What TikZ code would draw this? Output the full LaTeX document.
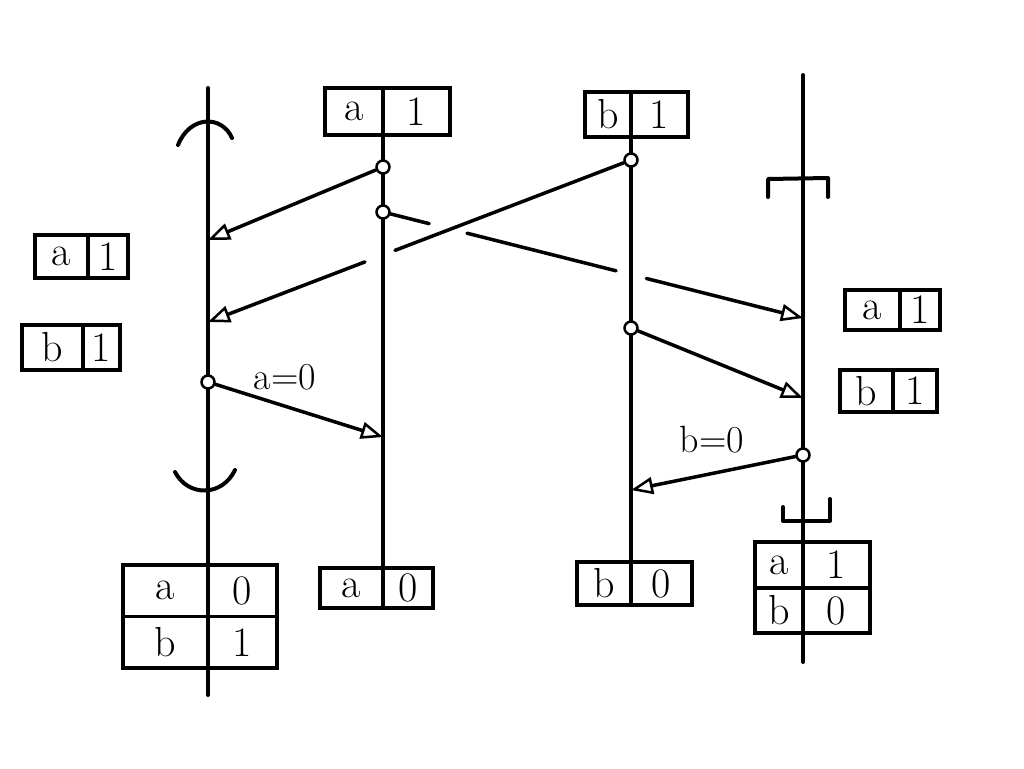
\documentclass[tikz,border=0pt]{standalone}
\usetikzlibrary{arrows.meta,calc}
\begin{document}
\begin{tikzpicture}[x=1pt,y=-1pt,
  proc/.style={line width=4pt, line cap=round},
  msg/.style={line width=3.5pt, line cap=round},
  tip/.style={-{Triangle[open,length=22pt,width=17pt,line width=2.5pt]}},
  cell/.style={draw, line width=3.5pt, inner sep=0pt, outer sep=0pt, font=\fontsize{42}{44}\selectfont},
  event/.style={circle, draw, fill=white, line width=2.5pt, minimum size=13pt, inner sep=0pt},
  guard/.style={line width=4pt, line cap=round, line join=round},
  lbl/.style={font=\fontsize{38}{40}\selectfont}]

\fill[white] (0,0) rectangle (1024,768);
\useasboundingbox (0,0) rectangle (1024,768);

% process time lines
\coordinate (p1t) at (208,88);  \coordinate (p1b) at (208,695);
\coordinate (p2t) at (383,88);  \coordinate (p2b) at (383,606);
\coordinate (p3t) at (631,92);  \coordinate (p3b) at (631,602);
\coordinate (p4t) at (803,75);  \coordinate (p4b) at (803,662);
\draw[proc] (p1t) -- (p1b);
\draw[proc] (p2t) -- (p2b);
\draw[proc] (p3t) -- (p3b);
\draw[proc] (p4t) -- (p4b);

% initial states
\node[cell, minimum width=58pt, minimum height=47pt] (s2a) at (354,111.5) {a};
\node[cell, minimum width=67pt, minimum height=47pt] (s2v) at (416.5,111.5) {1};
\node[cell, minimum width=46pt, minimum height=45pt] (s3b) at (608,114.5) {b};
\node[cell, minimum width=57pt, minimum height=45pt] (s3v) at (659.5,114.5) {1};

% final states
\node[cell, minimum width=63pt, minimum height=40pt] (f2a) at (351.5,588) {a};
\node[cell, minimum width=50pt, minimum height=40pt] (f2v) at (408,588) {0};
\node[cell, minimum width=54pt, minimum height=43pt] (f3b) at (604,583.5) {b};
\node[cell, minimum width=61pt, minimum height=43pt] (f3v) at (661.5,583.5) {0};

% tables of process 1 and process 4
\node[cell, minimum width=85pt, minimum height=51.5pt] (t1a)  at (165.5,590.75) {a};
\node[cell, minimum width=69pt, minimum height=51.5pt] (t1av) at (242.5,590.75) {0};
\node[cell, minimum width=85pt, minimum height=51.5pt] (t1b)  at (165.5,642.25) {b};
\node[cell, minimum width=69pt, minimum height=51.5pt] (t1bv) at (242.5,642.25) {1};
\node[cell, minimum width=48pt, minimum height=46pt] (t4a)  at (779,565) {a};
\node[cell, minimum width=67pt, minimum height=46pt] (t4av) at (836.5,565) {1};
\node[cell, minimum width=48pt, minimum height=45pt] (t4b)  at (779,610.5) {b};
\node[cell, minimum width=67pt, minimum height=45pt] (t4bv) at (836.5,610.5) {0};

% received values beside processes 1 and 4
\node[cell, minimum width=53pt, minimum height=43pt] (l1a) at (61.5,256.5) {a};
\node[cell, minimum width=40pt, minimum height=43pt] (l1v) at (108,256.5) {1};
\node[cell, minimum width=61pt, minimum height=45pt] (l2b) at (52.5,347.5) {b};
\node[cell, minimum width=37pt, minimum height=45pt] (l2v) at (101.5,347.5) {1};
\node[cell, minimum width=55pt, minimum height=40pt] (r1a) at (872.5,310) {a};
\node[cell, minimum width=40pt, minimum height=40pt] (r1v) at (920,310) {1};
\node[cell, minimum width=53pt, minimum height=42pt] (r2b) at (866.5,391) {b};
\node[cell, minimum width=44pt, minimum height=42pt] (r2v) at (915,391) {1};

% section markers on processes 1 and 4
\draw[guard] (178,145) .. controls (190,115) and (222,115) .. (232,138);
\draw[guard] (175,472) .. controls (188,497) and (222,497) .. (235,470);
\draw[guard] (768,197) -- (768,179) -- (828,178) -- (828,197);
\draw[guard] (783,507) -- (783,521) -- (830,521) -- (830,499);

% send events
\node[event] (e1) at (383,167) {};
\node[event] (e2) at (383,212) {};
\node[event] (e3) at (631,160) {};
\node[event] (e4) at (208,382) {};
\node[event] (e5) at (631,328) {};
\node[event] (e6) at (803,455) {};

% receive points
\coordinate (r1) at (208,240);
\coordinate (r2) at (803,318);
\coordinate (r3) at (208,322);
\coordinate (r4) at (383,437);
\coordinate (r5) at (803,398);
\coordinate (r6) at (631,490);

% messages
\draw[msg,tip] (e1) -- (r1);
\draw[msg] (e2) -- ($(e2)!0.11!(r2)$);
\draw[msg] ($(e2)!0.20!(r2)$) -- ($(e2)!0.555!(r2)$);
\draw[msg,tip] ($(e2)!0.627!(r2)$) -- (r2);
\draw[msg] (e3) -- ($(e3)!0.558!(r3)$);
\draw[msg,tip] ($(e3)!0.629!(r3)$) -- (r3);
\draw[msg,tip] (e4) -- (r4);
\draw[msg,tip] (e5) -- (r5);
\draw[msg,tip] (e6) -- (r6);

% assignments
\node[lbl] (la) at (285,377) {a=0};
\node[lbl] (lb) at (712,440) {b=0};
\end{tikzpicture}
\end{document}
